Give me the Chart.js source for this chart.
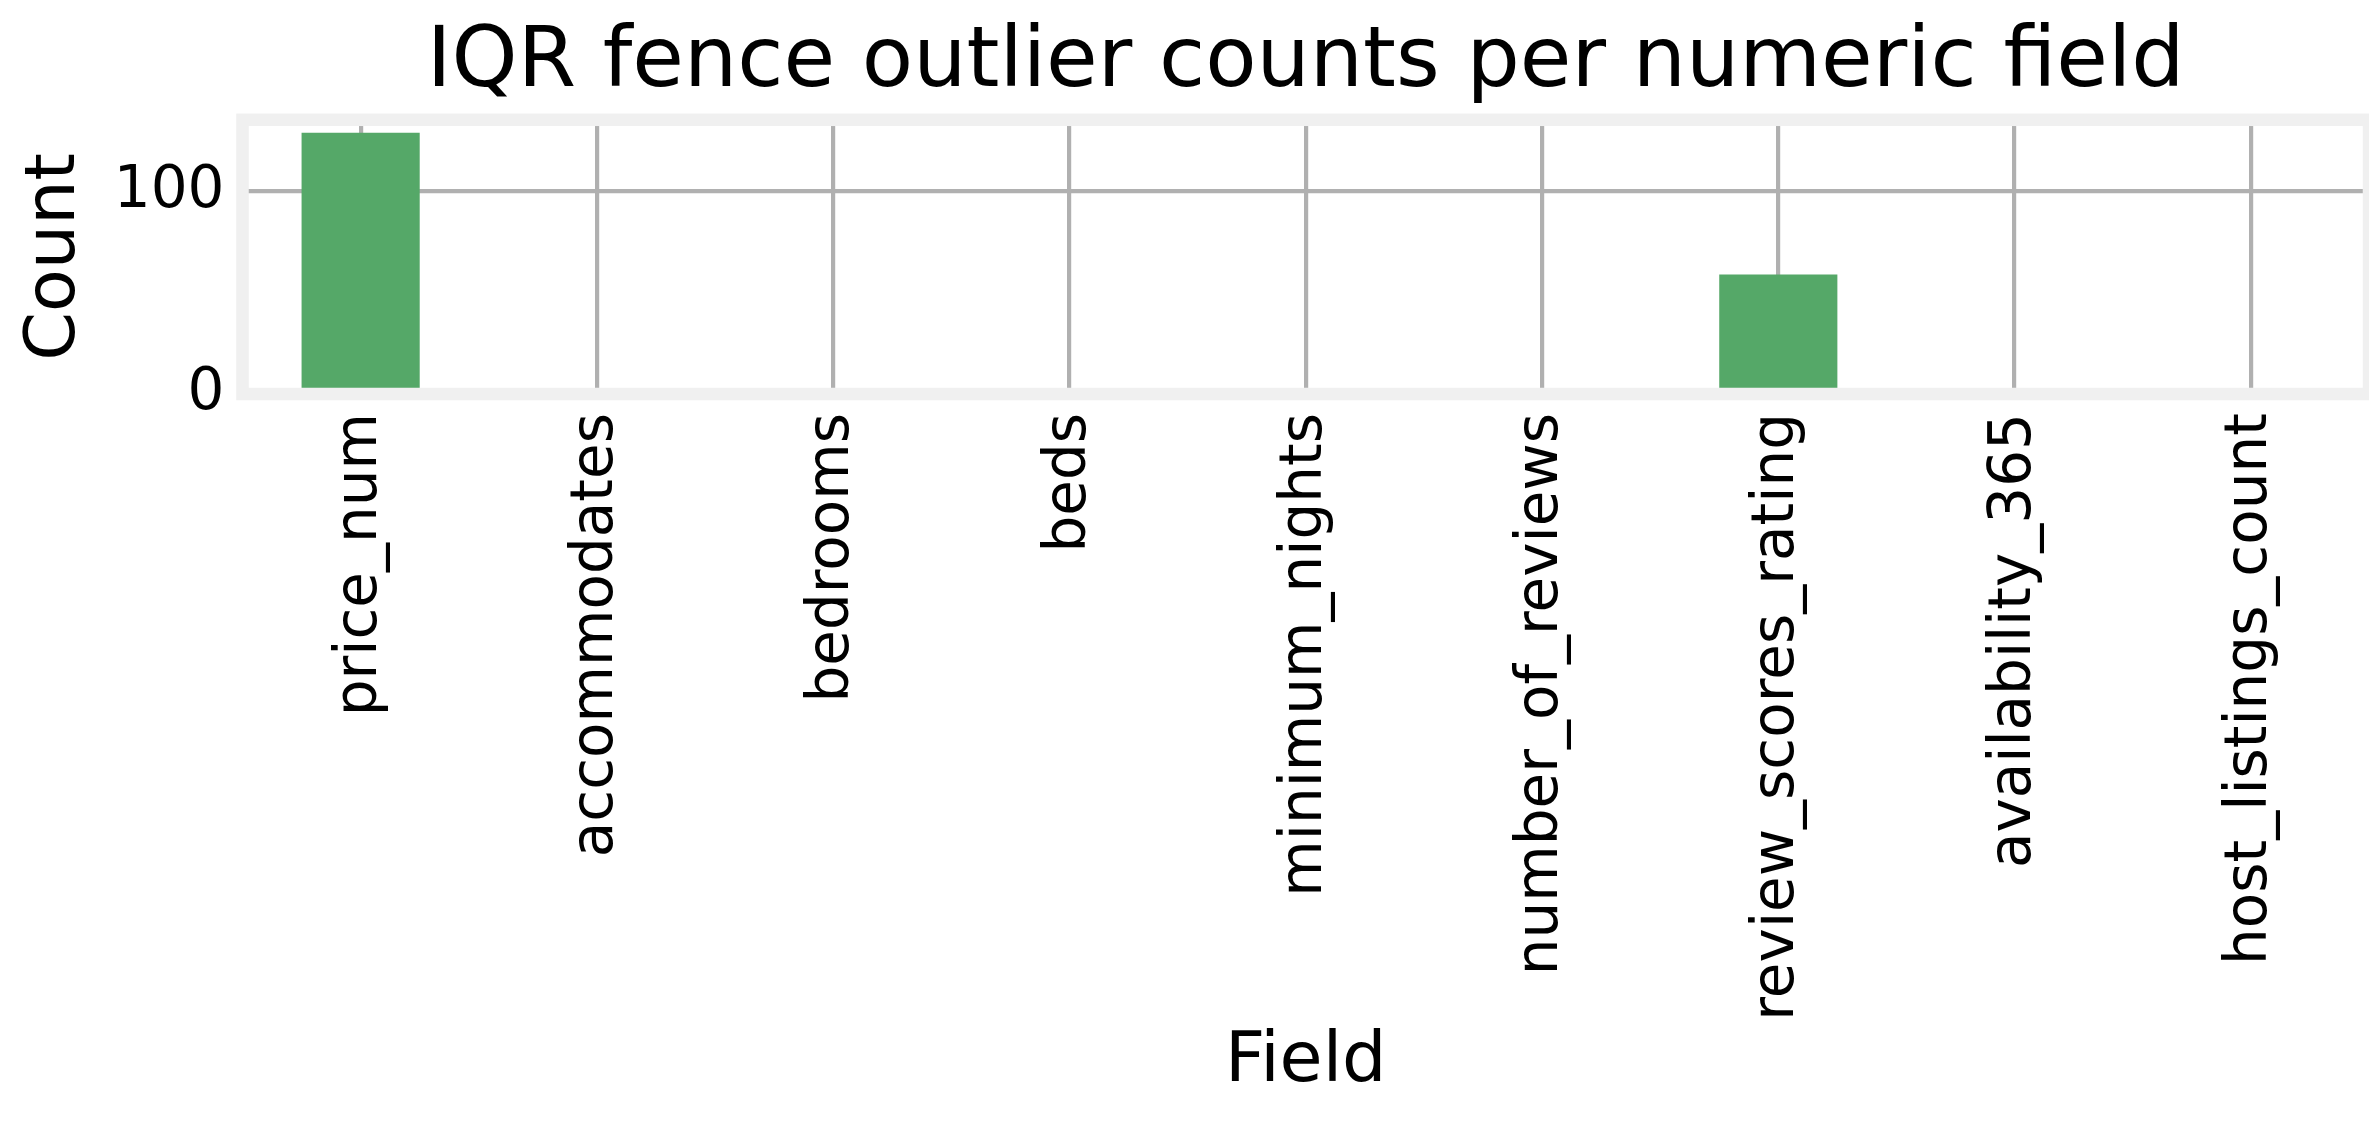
<!DOCTYPE html>
<html>
<head>
<meta charset="utf-8">
<script src="https://cdn.jsdelivr.net/npm/chart.js@4.4.1/dist/chart.umd.min.js"></script>
<style>
  html, body { margin: 0; padding: 0; background: #fff; }
  canvas { display: block; }
</style>
</head>
<body>
<canvas id="chart" width="2369" height="1134"></canvas>
<script>
const fields = ['price_num', 'accommodates', 'bedrooms', 'beds', 'minimum_nights',
    'number_of_reviews', 'review_scores_rating', 'availability_365', 'host_listings_count'];
const outlierCounts = [129, 0, 0, 0, 0, 0, 59, 0, 0];
const countTicks = [0, 100];

const FONT = 'DejaVu Sans';
const yMax = Math.max(...outlierCounts) * 1.05;

// thick light-grey frame around the plot area, drawn over bars and grid
const framePlugin = {
    id: 'frame',
    afterDatasetsDraw(chart) {
        const { ctx, chartArea } = chart;
        ctx.save();
        ctx.strokeStyle = '#f0f0f0';
        ctx.lineWidth = 12.5;
        ctx.strokeRect(chartArea.left, chartArea.top,
            chartArea.right - chartArea.left, chartArea.bottom - chartArea.top);
        ctx.restore();
    }
};

const ctx = document.getElementById('chart').getContext('2d');
new Chart(ctx, {
    type: 'bar',
    data: {
        labels: fields,
        datasets: [{
            label: 'Count',
            data: outlierCounts,
            backgroundColor: '#55a868',
            borderWidth: 0,
            barPercentage: 0.5,
            categoryPercentage: 1.0
        }]
    },
    options: {
        responsive: false,
        animation: false,
        layout: { padding: 0 },
        plugins: {
            legend: { display: false },
            tooltip: { enabled: false },
            title: {
                display: true,
                fullSize: false,  // centre over the plot area, like matplotlib
                text: 'IQR fence outlier counts per numeric field',
                color: '#000',
                font: { family: FONT, size: 84, weight: 'normal', lineHeight: 1.2 },
                padding: { top: 14, bottom: 5 }
            }
        },
        scales: {
            x: {
                offset: true,
                grid: { display: true, offset: false, color: '#b0b0b0', lineWidth: 4.2, drawTicks: false },
                border: { display: false },
                ticks: {
                    autoSkip: false,
                    maxRotation: 90,
                    minRotation: 90,
                    padding: 19,
                    color: '#000',
                    font: { family: FONT, size: 58 }
                },
                title: {
                    display: true,
                    text: 'Field',
                    color: '#000',
                    font: { family: FONT, size: 70, lineHeight: 1.2 },
                    padding: { top: 0, bottom: 29 }
                },
                afterFit(scale) { scale.height = 740; }
            },
            y: {
                min: 0,
                max: yMax,
                grid: { color: '#b0b0b0', lineWidth: 4.2, drawTicks: false },
                border: { display: false },
                afterBuildTicks(scale) {
                    scale.ticks = countTicks.map(v => ({ value: v }));
                },
                ticks: {
                    padding: 18,
                    color: '#000',
                    font: { family: FONT, size: 58 }
                },
                title: {
                    display: true,
                    text: 'Count',
                    color: '#000',
                    font: { family: FONT, size: 70, lineHeight: 1.2 },
                    padding: { top: 14, bottom: 0 }
                },
                afterFit(scale) { scale.width = 242.5; }
            }
        }
    },
    plugins: [framePlugin]
});
</script>
</body>
</html>
